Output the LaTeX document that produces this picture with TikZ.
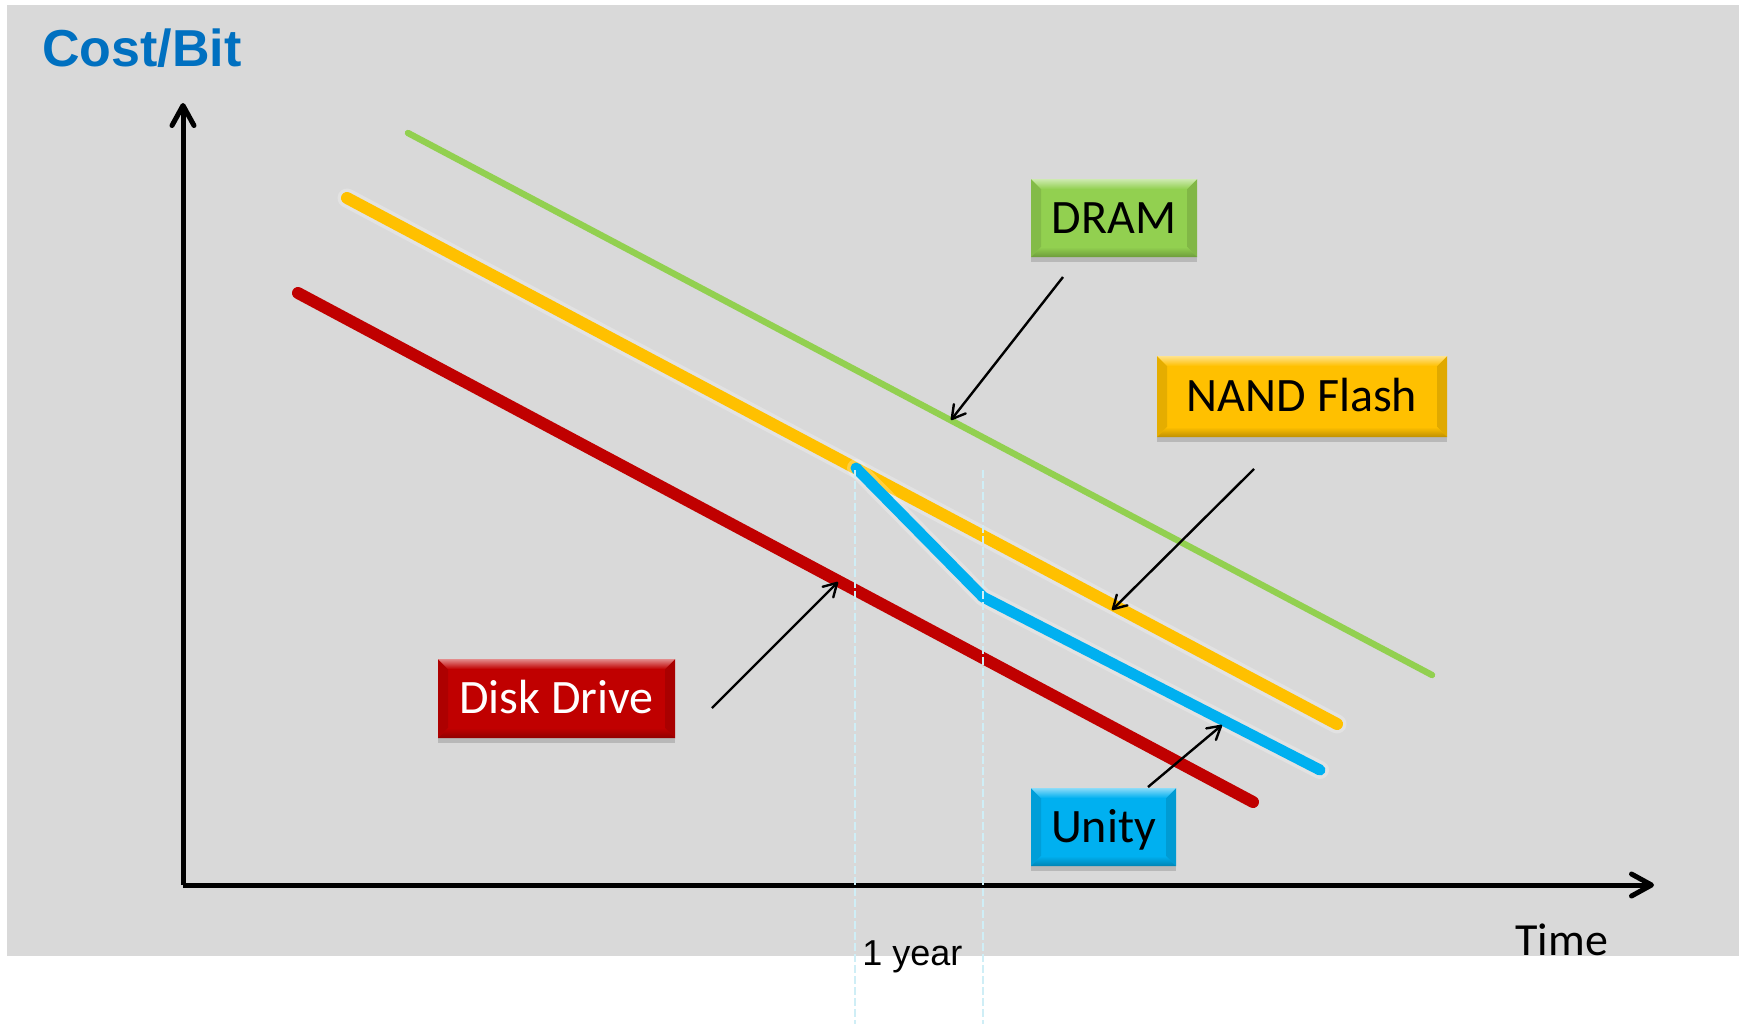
\documentclass[tikz,border=0pt]{standalone}
\usepackage{fontspec}
\setmainfont{Carlito}
\newfontfamily\arialfont{Liberation Sans}
\usetikzlibrary{arrows.meta,shadows}

\definecolor{bggray}{HTML}{D9D9D9}
\definecolor{titleblue}{HTML}{0070C0}
\definecolor{dramgreen}{HTML}{92D050}
\definecolor{nandorange}{HTML}{FFC000}
\definecolor{diskred}{HTML}{C00000}
\definecolor{unityblue}{HTML}{00B0F0}
\definecolor{guidecyan}{HTML}{CFEEF6}

% bevelled look of the label boxes
\newcommand\tagbevel[1]{%
  \coordinate (bnw) at (path picture bounding box.north west);
  \coordinate (bne) at (path picture bounding box.north east);
  \coordinate (bsw) at (path picture bounding box.south west);
  \coordinate (bse) at (path picture bounding box.south east);
  \fill[#1!90!black] (bnw) -- ([xshift=5pt,yshift=-5pt]bnw) -- ([xshift=5pt,yshift=5pt]bsw) -- (bsw) -- cycle;
  \fill[#1!88!black] (bne) -- ([xshift=-5pt,yshift=-5pt]bne) -- ([xshift=-5pt,yshift=5pt]bse) -- (bse) -- cycle;
  \shade[top color=#1!45!white, bottom color=#1]
    (bnw) -- (bne) -- ([xshift=-5pt,yshift=-5pt]bne) -- ([xshift=5pt,yshift=-5pt]bnw) -- cycle;
  \shade[top color=#1, bottom color=#1!75!black]
    (bsw) -- (bse) -- ([xshift=-5pt,yshift=5pt]bse) -- ([xshift=5pt,yshift=5pt]bsw) -- cycle;
}

\begin{document}
\begin{tikzpicture}[x=0.5pt,y=-0.5pt,
  trend/.style={line cap=round, line join=round},
  halo/.style={line cap=round, line join=round, white, opacity=0.25},
  axisline/.style={line width=2.5pt, -{Straight Barb[length=10pt,width=11pt,round]}},
  pointer/.style={line width=1.2pt, -{Straight Barb[length=6.5pt,width=7.5pt,round]}},
  guide/.style={guidecyan, line width=0.9pt, dash pattern=on 4pt off 1.5pt},
  tag/.style={rectangle, inner sep=0pt, fill=#1,
    font=\fontsize{24pt}{28pt}\selectfont, text height=15.4pt, text depth=0pt,
    drop shadow={shadow xshift=0pt, shadow yshift=-2.5pt, opacity=0.15, fill=black},
    path picture={\tagbevel{#1}}},
]
\useasboundingbox (0,0) rectangle (1739,1024);
\fill[bggray] (7,5) rectangle (1739,956);

% axes
\coordinate (origin) at (183,885);
\coordinate (ytop) at (183,103);
\coordinate (xend) at (1654,885);
\draw[axisline] (origin) -- (ytop);
\draw[axisline] (origin) -- (xend);

\node[anchor=base west, inner sep=0pt, text=titleblue,
      font=\arialfont\bfseries\fontsize{26pt}{30pt}\selectfont] (ylabel) at (42,66) {Cost/Bit};
\node[anchor=base west, inner sep=0pt, font=\fontsize{23pt}{26pt}\selectfont] (xlabel) at (1515,955) {Time};

% trend lines
\coordinate (g1) at (408,133);   \coordinate (g2) at (1432,675);
\coordinate (o1) at (347,198);   \coordinate (o2) at (1337,724);
\coordinate (r1) at (298,293);   \coordinate (r2) at (1253,802);
\coordinate (u1) at (856,468);   \coordinate (u2) at (983,597);   \coordinate (u3) at (1320,770);

\draw[trend, dramgreen, line width=3.2pt] (g1) -- (g2);
\draw[halo, line width=9.5pt] (o1) -- (o2);
\draw[trend, nandorange, line width=6pt] (o1) -- (o2);
\draw[trend, diskred, line width=6pt] (r1) -- (r2);
\draw[halo, line width=9pt] (u1) -- (u2) -- (u3);
\draw[trend, unityblue, line width=5.5pt] (u1) -- (u2) -- (u3);

% one-year guides
\coordinate (ga) at (855,470);  \coordinate (gab) at (855,1024);
\coordinate (gb) at (983,470);  \coordinate (gbb) at (983,1024);
\draw[guide] (ga) -- (gab);
\draw[guide] (gb) -- (gbb);
\node[anchor=base west, inner sep=0pt, font=\arialfont\fontsize{18pt}{21pt}\selectfont] (yearlabel) at (862,965) {1 year};

% labels
\node[tag=dramgreen, minimum width=83pt, minimum height=39pt] (dram) at (1114,218) {DRAM};
\node[tag=nandorange, minimum width=145pt, minimum height=40.5pt] (nand) at (1302,396.5) {NAND Flash\hspace{14pt}};
\node[tag=diskred, text=white, minimum width=118.5pt, minimum height=39.5pt] (disk) at (556.5,698.5) {Disk Drive};
\node[tag=unityblue, minimum width=72.5pt, minimum height=39pt] (unity) at (1103.5,827) {Unity};

% pointers from labels to their lines
\coordinate (dramfrom) at (1063,277);   \coordinate (dramto) at (951,420);
\coordinate (nandfrom) at (1254,469);   \coordinate (nandto) at (1112,610);
\coordinate (diskfrom) at (712,708);    \coordinate (diskto) at (838,582);
\coordinate (unityfrom) at (1148,787);  \coordinate (unityto) at (1222,725);
\draw[pointer] (dramfrom) -- (dramto);
\draw[pointer] (nandfrom) -- (nandto);
\draw[pointer] (diskfrom) -- (diskto);
\draw[pointer] (unityfrom) -- (unityto);
\end{tikzpicture}
\end{document}
